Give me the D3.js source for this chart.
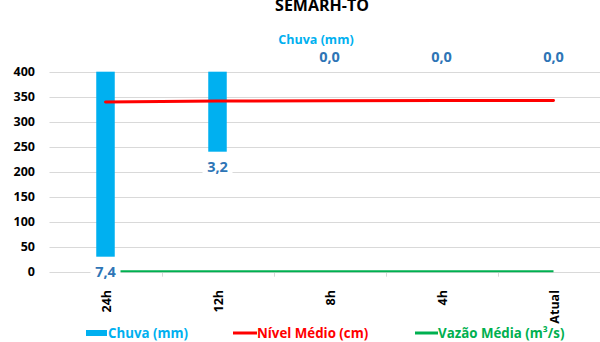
<!DOCTYPE html>
<html>
<head>
<meta charset="utf-8">
<script src="https://cdn.jsdelivr.net/npm/d3@7"></script>
<style>
  html, body { margin: 0; padding: 0; background: #fff; }
  svg { display: block; font-family: "Open Sans", sans-serif; }
</style>
</head>
<body>
<svg id="chart" width="600" height="342"></svg>
<script>
// Categories and series
const categories = ["24h", "12h", "8h", "4h", "Atual"];
const chuva = [7.4, 3.2, 0.0, 0.0, 0.0];               // mm (secondary axis, reversed)
const nivel = [339.5, 341.2, 342.0, 342.3, 342.6];     // cm
const vazao = [0.9, 0.9, 0.9, 0.9, 0.9];               // m³/s
const leftTicks = [0, 50, 100, 150, 200, 250, 300, 350, 400];

const svg = d3.select("#chart");
const plot = { left: 49.5, right: 609.5, top: 71.7, bottom: 271.7 };

const x = d3.scaleBand().domain(categories).range([plot.left, plot.right]);
const y = d3.scaleLinear().domain([0, 400]).range([plot.bottom, plot.top]);
const y2 = d3.scaleLinear().domain([0, 8]).range([plot.top, plot.bottom]);

// Title
svg.append("text").attr("x", 322).attr("y", 10.5)
  .attr("text-anchor", "middle").attr("font-weight", 700).attr("font-size", 16)
  .attr("fill", "#000").text("SEMARH-TO");

// Secondary axis title
svg.append("text").attr("x", 316).attr("y", 44)
  .attr("text-anchor", "middle").attr("font-weight", 700).attr("font-size", 12.5)
  .attr("fill", "#00B0F0").text("Chuva (mm)");

// Gridlines
svg.append("g").selectAll("line").data(leftTicks).join("line")
  .attr("x1", plot.left).attr("x2", 600)
  .attr("y1", d => Math.round(y(d)) + 0.5).attr("y2", d => Math.round(y(d)) + 0.5)
  .attr("stroke", "#D9D9D9").attr("stroke-width", 1);

// Left axis labels
const yAxis = d3.axisLeft(y).tickValues(leftTicks).tickSize(0).tickPadding(0);
const gy = svg.append("g").attr("transform", "translate(35,0)").call(yAxis);
gy.select(".domain").remove();
gy.selectAll("text").attr("font-family", "'Open Sans', sans-serif")
  .attr("font-size", 12.5).attr("font-weight", 700).attr("fill", "#000");

// Category ticks at band boundaries
const boundaries = categories.slice(1).map(c => x(c));
svg.append("g").selectAll("line").data(boundaries).join("line")
  .attr("x1", d => Math.round(d) + 0.5).attr("x2", d => Math.round(d) + 0.5)
  .attr("y1", plot.bottom).attr("y2", plot.bottom + 5)
  .attr("stroke", "#D9D9D9");

// Category labels (rotated)
svg.append("g").selectAll("text").data(categories).join("text")
  .attr("transform", d => `translate(${x(d) + x.bandwidth() / 2 + 5},290) rotate(-90)`)
  .attr("text-anchor", "end").attr("font-size", 12.5).attr("font-weight", 700)
  .attr("fill", "#000").text(d => d);

// Rain bars hanging from the top
const barW = 18.5;
svg.append("g").selectAll("rect").data(chuva).join("rect")
  .attr("x", (d, i) => x(categories[i]) + x.bandwidth() / 2 - barW / 2)
  .attr("y", y2(0)).attr("width", barW)
  .attr("height", d => y2(d) - y2(0))
  .attr("fill", "#00B0F0");

// Level line
const line = d3.line().x((d, i) => x(categories[i]) + x.bandwidth() / 2).y(d => y(d));
svg.append("path").datum(nivel).attr("d", line)
  .attr("fill", "none").attr("stroke", "#FF0000").attr("stroke-width", 3)
  .attr("stroke-linecap", "round");

// Flow line
svg.append("path").datum(vazao).attr("d", line)
  .attr("fill", "none").attr("stroke", "#00B050").attr("stroke-width", 2.2);

// Rain value labels
const fmt = v => d3.format(".1f")(v).replace(".", ",");
const labels = svg.append("g").selectAll("g").data(chuva).join("g")
  .attr("transform", (d, i) => {
    const cx = x(categories[i]) + x.bandwidth() / 2;
    const cy = d > 0 ? y2(d) + 15 : y2(0) - 15;
    return `translate(${cx},${cy})`;
  });
labels.append("rect").attr("x", -15).attr("y", -8).attr("width", 30).attr("height", 16)
  .attr("fill", "#fff");
labels.append("text").attr("text-anchor", "middle").attr("dy", "0.36em")
  .attr("font-size", 14.5).attr("font-weight", 700).attr("fill", "#2E75B6")
  .text(d => fmt(d));

// Legend
const lg = svg.append("g").attr("font-size", 13.3).attr("font-weight", 700);
lg.append("rect").attr("x", 86).attr("y", 330).attr("width", 21).attr("height", 6).attr("fill", "#00B0F0");
lg.append("text").attr("x", 108).attr("y", 337.8).attr("fill", "#00B0F0").text("Chuva (mm)");
lg.append("line").attr("x1", 233).attr("x2", 257).attr("y1", 333).attr("y2", 333)
  .attr("stroke", "#FF0000").attr("stroke-width", 3);
lg.append("text").attr("x", 257).attr("y", 337.8).attr("fill", "#FF0000").text("Nível Médio (cm)");
lg.append("line").attr("x1", 415).attr("x2", 438).attr("y1", 333).attr("y2", 333)
  .attr("stroke", "#00B050").attr("stroke-width", 3);
lg.append("text").attr("x", 438).attr("y", 337.8).attr("fill", "#00B050").text("Vazão Média (m³/s)");
</script>
</body>
</html>
